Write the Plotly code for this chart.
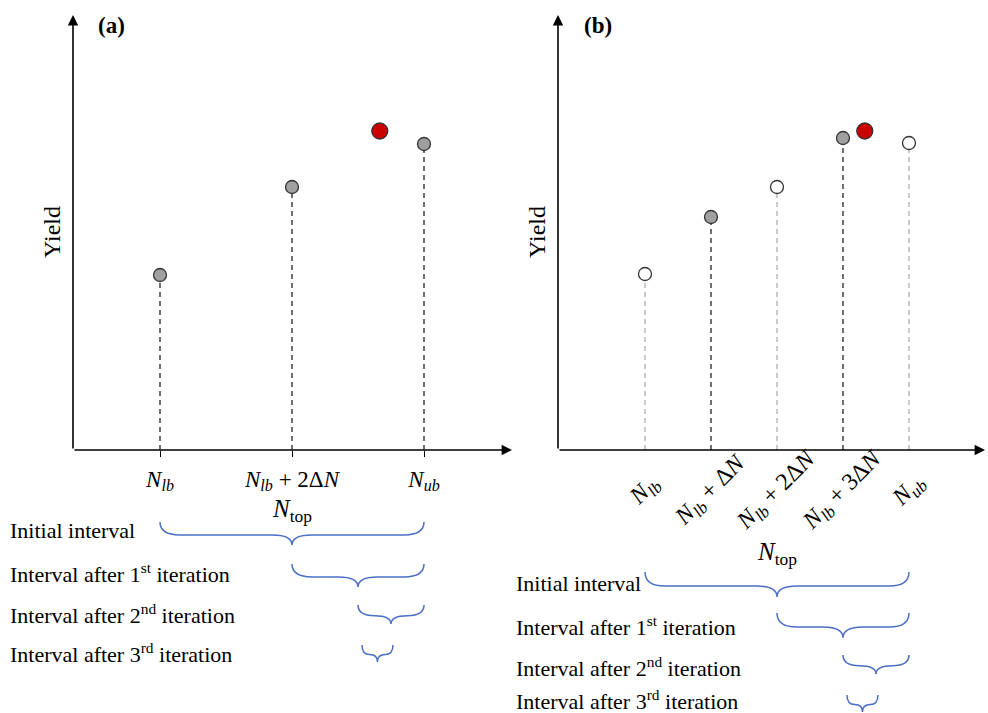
import plotly.graph_objects as go

W, H = 988, 713

# ---- data (x in units of ΔN from N_lb, yield in arbitrary units) ----
a_x = [0, 2, 4]
a_yield = [175, 263, 306]
a_labels = ["<i>N</i><sub><i>lb</i></sub>",
            "<i>N</i><sub><i>lb</i></sub> + 2Δ<i>N</i>",
            "<i>N</i><sub><i>ub</i></sub>"]

b_x = [0, 1, 2, 3, 4]
b_yield = [176, 233, 263, 312, 307]
b_evaluated = [False, True, False, True, False]
b_labels = ["<i>N</i><sub><i>lb</i></sub>",
            "<i>N</i><sub><i>lb</i></sub> + Δ<i>N</i>",
            "<i>N</i><sub><i>lb</i></sub> + 2Δ<i>N</i>",
            "<i>N</i><sub><i>lb</i></sub> + 3Δ<i>N</i>",
            "<i>N</i><sub><i>ub</i></sub>"]

opt_x = 3.33
opt_yield = 319

interval_names = ["Initial interval",
                  "Interval after 1<sup>st</sup> iteration",
                  "Interval after 2<sup>nd</sup> iteration",
                  "Interval after 3<sup>rd</sup> iteration"]
interval_lo = [0, 2, 3, 3.06]
interval_hi = [4, 4, 4, 3.53]

# ---- layout helpers (pixel -> paper) ----
def px(x):
    return x / W

def py(y):
    return 1 - y / H

DX = 66.0  # pixels per ΔN
A_X0, A_X1, A_ORIG = 73, 512, 160
B_X0, B_X1, B_ORIG = 558, 985, 645
Y_AX, Y_TOP = 450, 15
YMAX = Y_AX - Y_TOP

a_range = [(A_X0 - A_ORIG) / DX, (A_X1 - A_ORIG) / DX]
b_range = [(B_X0 - B_ORIG) / DX, (B_X1 - B_ORIG) / DX]

FONT = "Liberation Serif"
fig = go.Figure()

# ---- panel (a) stems and points ----
sx, sy = [], []
for x, y in zip(a_x, a_yield):
    sx += [x, x, None]
    sy += [0, y, None]
fig.add_trace(go.Scatter(x=sx, y=sy, mode="lines", xaxis="x", yaxis="y",
                         line=dict(color="#222222", width=1.3, dash="5px,4px"),
                         hoverinfo="skip"))
fig.add_trace(go.Scatter(x=a_x, y=a_yield, mode="markers", xaxis="x", yaxis="y",
                         marker=dict(size=13, color="#a0a0a0",
                                     line=dict(color="#333333", width=1.3))))
fig.add_trace(go.Scatter(x=[opt_x], y=[opt_yield], mode="markers", xaxis="x", yaxis="y",
                         marker=dict(size=16, color="#cc0000",
                                     line=dict(color="#333333", width=1.3))))

# ---- panel (b) ----
for evaluated, col in [(True, "#222222"), (False, "#b0b0b0")]:
    sx, sy = [], []
    for x, y, e in zip(b_x, b_yield, b_evaluated):
        if e == evaluated:
            sx += [x, x, None]
            sy += [0, y, None]
    fig.add_trace(go.Scatter(x=sx, y=sy, mode="lines", xaxis="x2", yaxis="y2",
                             line=dict(color=col, width=1.3, dash="5px,4px"),
                             hoverinfo="skip"))
fig.add_trace(go.Scatter(x=b_x, y=b_yield, mode="markers", xaxis="x2", yaxis="y2",
                         marker=dict(size=13,
                                     color=["#a0a0a0" if e else "white" for e in b_evaluated],
                                     line=dict(color="#333333", width=1.3))))
fig.add_trace(go.Scatter(x=[opt_x], y=[opt_yield], mode="markers", xaxis="x2", yaxis="y2",
                         marker=dict(size=16, color="#cc0000",
                                     line=dict(color="#333333", width=1.3))))

annotations = []
shapes = []

# axis arrows
for xr, yr, rng in [("x", "y", a_range), ("x2", "y2", b_range)]:
    annotations.append(dict(x=rng[1], y=0, ax=rng[0], ay=0, xref=xr, yref=yr,
                            axref=xr, ayref=yr, showarrow=True, arrowhead=2,
                            arrowsize=1.3, arrowwidth=1.6, arrowcolor="black", text=""))
    annotations.append(dict(x=rng[0], y=YMAX, ax=rng[0], ay=0, xref=xr, yref=yr,
                            axref=xr, ayref=yr, showarrow=True, arrowhead=2,
                            arrowsize=1.3, arrowwidth=1.6, arrowcolor="black", text=""))

def label(x, y, text, size, xref="paper", xanchor="center", angle=0):
    return dict(x=x, y=y, xref=xref, yref="paper", text=text, textangle=angle,
                xanchor=xanchor, yanchor="middle", showarrow=False,
                font=dict(family=FONT, size=size, color="black"))

# panel letters
annotations.append(label(px(111), py(25), "<b>(a)</b>", 23))
annotations.append(label(px(598), py(25), "<b>(b)</b>", 23))

# y labels
for xpix in [52, 537]:
    annotations.append(label(px(xpix), py(232), "Yield", 24, angle=-90))

# panel (b) rotated tick labels
for x, lab in zip(b_x, b_labels):
    annotations.append(label(x, py(491), lab, 24, xref="x2", angle=-45))

# N_top titles
annotations.append(label(2, py(511), "<i>N</i><sub>top</sub>", 25, xref="x"))
annotations.append(label(2, py(553), "<i>N</i><sub>top</sub>", 25, xref="x2"))

# braces and interval labels
def brace(xref, x0, x1, ytop_pix, ybot_pix):
    ymid_pix = ytop_pix + (ybot_pix - ytop_pix) * 0.56
    r = min(0.3, (x1 - x0) / 4)
    xc = (x0 + x1) / 2
    yt, ym, yb = py(ytop_pix), py(ymid_pix), py(ybot_pix)
    path = (f"M {x0},{yt} Q {x0},{ym} {x0 + r},{ym} L {xc - r},{ym} "
            f"Q {xc},{ym} {xc},{yb} Q {xc},{ym} {xc + r},{ym} "
            f"L {x1 - r},{ym} Q {x1},{ym} {x1},{yt}")
    return dict(type="path", path=path, xref=xref, yref="paper",
                line=dict(color="#4a6fc4", width=1.5))

a_brace_rows = [(522, 545, 530), (564, 587, 573), (605, 624, 614), (645, 662, 653)]
b_brace_rows = [(572, 597, 583), (613, 638, 626), (655, 674, 667), (695, 712, 700)]

for (yt, yb, ytxt), lo, hi, name in zip(a_brace_rows, interval_lo, interval_hi, interval_names):
    shapes.append(brace("x", lo, hi, yt, yb))
    annotations.append(label(px(8), py(ytxt), name, 22, xanchor="left"))
for (yt, yb, ytxt), lo, hi, name in zip(b_brace_rows, interval_lo, interval_hi, interval_names):
    shapes.append(brace("x2", lo, hi, yt, yb))
    annotations.append(label(px(514), py(ytxt), name, 22, xanchor="left"))

ydom = [py(Y_AX), py(Y_TOP)]
fig.update_layout(
    width=W, height=H, margin=dict(l=0, r=0, t=0, b=0),
    paper_bgcolor="white", plot_bgcolor="white", showlegend=False,
    xaxis=dict(domain=[px(A_X0), px(A_X1)], range=a_range, showgrid=False, zeroline=False,
               showline=False, tickvals=a_x, ticktext=a_labels, ticks="outside",
               ticklen=6, tickwidth=1.3, tickcolor="black", ticklabelstandoff=2,
               tickfont=dict(family=FONT, size=23, color="black")),
    yaxis=dict(domain=ydom, range=[0, YMAX], showgrid=False, zeroline=False,
               showline=False, showticklabels=False, ticks=""),
    xaxis2=dict(domain=[px(B_X0), px(B_X1)], range=b_range, showgrid=False, zeroline=False,
                showline=False, showticklabels=False, ticks="", anchor="y2"),
    yaxis2=dict(domain=ydom, range=[0, YMAX], showgrid=False, zeroline=False,
                showline=False, showticklabels=False, ticks="", anchor="x2"),
    annotations=annotations, shapes=shapes,
)

fig.write_html("out.html", config={"displayModeBar": False},
               post_script="document.body.style.margin='0px';document.body.style.padding='0px';")
